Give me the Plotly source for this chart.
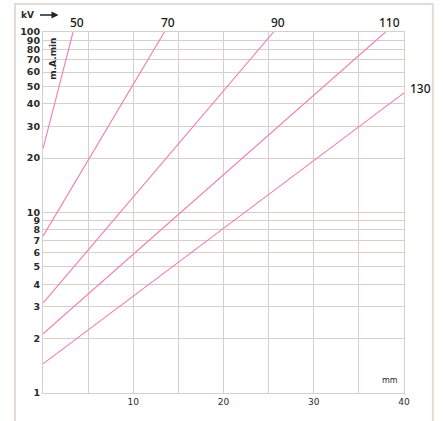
import math
import plotly.graph_objects as go

# Data: each kV curve is a straight line on the log scale (thickness mm -> mA.min)
kv_labels = ["50", "70", "90", "110", "130"]
x_start = [0, 0, 0, 0, 0]
x_end = [3.33, 13.45, 25.55, 37.95, 40]
y_start = [22.6, 7.4, 3.15, 2.13, 1.45]
y_end = [100, 100, 100, 100, 46]

y_tick_vals = [1, 2, 3, 4, 5, 6, 7, 8, 9, 10, 20, 30, 40, 50, 60, 70, 80, 90, 100]
x_tick_vals = [0, 5, 10, 15, 20, 25, 30, 35, 40]
x_tick_text = ["", "", "10", "", "20", "", "30", "", "40"]

line_color = "#f07cb2"
grid_color = "#d8cfcb"
text_color = "#2a2a2a"

fig = go.Figure()
for i, lab in enumerate(kv_labels):
    fig.add_trace(go.Scatter(
        x=[x_start[i], x_end[i]], y=[y_start[i], y_end[i]],
        mode="lines", line=dict(color=line_color, width=1.1),
        showlegend=False, hoverinfo="skip", name=lab + " kV"))

annotations = []
for i, lab in enumerate(kv_labels):
    if y_end[i] >= 100:
        annotations.append(dict(x=x_end[i], y=2, xref="x", yref="y", text=lab,
                                showarrow=False, xanchor="center", yanchor="middle",
                                xshift=4, yshift=10,
                                font=dict(family="Noto Sans", size=12, color="#1a1a1a", weight=500)))
    else:
        annotations.append(dict(x=x_end[i], y=math.log10(y_end[i]), xref="x", yref="y",
                                text=lab, showarrow=False, xanchor="left", yanchor="middle",
                                xshift=4, yshift=4,
                                font=dict(family="Noto Sans", size=12, color="#1a1a1a", weight=500)))

# axis captions
annotations.append(dict(x=0.99, y=0.018, xref="paper", yref="paper", text="mm",
                        showarrow=False, xanchor="right", yanchor="bottom",
                        font=dict(family="DejaVu Sans", size=8, color=text_color)))
annotations.append(dict(x=0.028, y=0.99, xref="paper", yref="paper", text="m.A.min",
                        showarrow=False, textangle=-90, xanchor="center", yanchor="top",
                        font=dict(family="DejaVu Sans", size=9, color=text_color, weight=600)))
annotations.append(dict(x=-0.02, y=1.047, xref="paper", yref="paper", text="kV",
                        showarrow=False, xanchor="right", yanchor="middle",
                        font=dict(family="DejaVu Sans", size=9, color=text_color, weight=600)))
annotations.append(dict(x=0.043, y=1.047, xref="paper", yref="paper", text="",
                        showarrow=True, arrowhead=2, arrowsize=1, arrowwidth=1.4,
                        arrowcolor="#222", ax=-20, ay=0))

fig.update_layout(
    width=443, height=421,
    margin=dict(l=43, r=39, t=32, b=28),
    paper_bgcolor="white", plot_bgcolor="white",
    annotations=annotations,
    shapes=[dict(type="rect", xref="paper", yref="paper",
                 x0=-0.0776, x1=1.08, y0=-0.2, y1=1.0776,
                 line=dict(color="#e2dbd8", width=2), layer="below")],
    xaxis=dict(range=[0, 40], tickmode="array", tickvals=x_tick_vals, ticktext=x_tick_text,
               showgrid=True, gridcolor=grid_color, gridwidth=1, zeroline=False,
               showline=True, linecolor=grid_color, mirror=True, ticks="",
               tickfont=dict(family="DejaVu Sans", size=9, color=text_color)),
    yaxis=dict(type="log", range=[0, 2], tickmode="array", tickvals=y_tick_vals,
               ticktext=[str(v) for v in y_tick_vals],
               showgrid=True, gridcolor=grid_color, gridwidth=1, zeroline=False,
               showline=True, linecolor=grid_color, mirror=True, ticks="",
               ticklabelstandoff=0,
               tickfont=dict(family="DejaVu Sans", size=9.5, color=text_color, weight=600)),
)

fig.write_html("out.html")
